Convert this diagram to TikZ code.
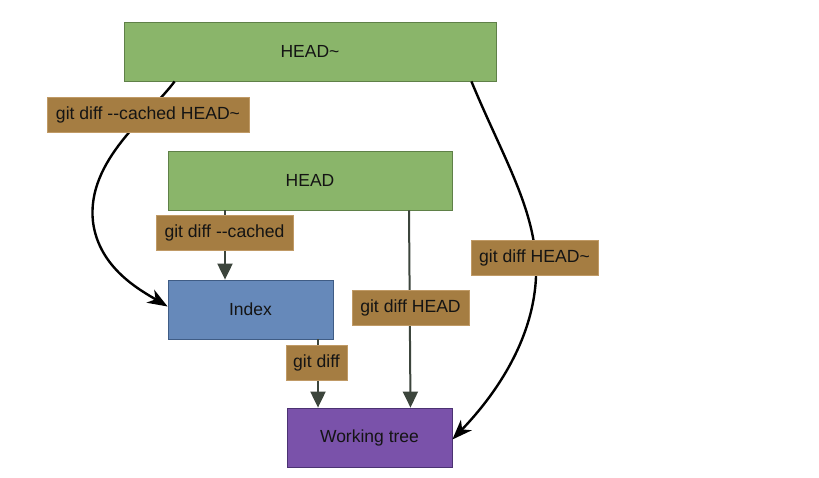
\documentclass[tikz,border=0pt]{standalone}
\usepackage{fontspec}
\setmainfont{Liberation Sans}
\usetikzlibrary{arrows.meta}
\definecolor{commitgreen}{HTML}{8AB56A}
\definecolor{commitedge}{HTML}{5F8048}
\definecolor{indexblue}{HTML}{6689BA}
\definecolor{indexedge}{HTML}{3F5C85}
\definecolor{treepurple}{HTML}{7A52AA}
\definecolor{treeedge}{HTML}{4B3272}
\definecolor{cmdbrown}{HTML}{A57D42}
\definecolor{cmdedge}{HTML}{C09A66}
\definecolor{flowgray}{HTML}{3C453C}
\definecolor{inktext}{HTML}{141414}
\tikzset{
  area/.style={rectangle, draw, line width=0.8pt, inner sep=0pt, text=inktext,
    font=\fontsize{17.5}{20}\selectfont},
  commit/.style={area, fill=commitgreen, draw=commitedge},
  stage/.style={area, fill=indexblue, draw=indexedge},
  worktree/.style={area, fill=treepurple, draw=treeedge},
  cmd/.style={rectangle, fill=cmdbrown, draw=cmdedge, line width=0.6pt,
    inner sep=0pt, text=inktext, font=\fontsize{17.6}{20}\selectfont},
  direct/.style={draw=flowgray, line width=2pt,
    -{Triangle[length=16pt,width=15pt]}},
  across/.style={draw=black, line width=2.4pt,
    -{Stealth[length=20pt,width=15pt,inset=6pt]}},
}
\begin{document}
\begin{tikzpicture}[x=1pt,y=-1pt]
\useasboundingbox[fill=white] (0,0) rectangle (819,477);

% the four states
\node[commit, minimum width=372pt, minimum height=59pt] (headp) at (310,51.5) {HEAD\textasciitilde};
\node[commit, minimum width=284pt, minimum height=59pt] (head) at (310,180.5) {HEAD};
\node[stage, minimum width=165pt, minimum height=59pt] (index) at (250.5,309.5) {Index};
\node[worktree, minimum width=165pt, minimum height=59pt] (wt) at (369.5,437.5) {Working tree};

% straight comparisons
\draw[direct] ([xshift=-85pt]head.south) -- ([xshift=-85pt]head.south |- index.north);
\draw[direct] ([xshift=99pt]head.south) -- ([xshift=41pt]wt.north);
\draw[direct] ([xshift=67.5pt]index.south) -- ([xshift=67.5pt]index.south |- wt.north);

% curved comparisons against HEAD~
\draw[across] ([xshift=51pt]headp.south west)
  .. controls (150,115) and (86,160) .. (93,222)
  .. controls (99,268) and (140,290) .. ([yshift=3pt]index.west);
\draw[across] ([xshift=-25pt]headp.south east)
  .. controls (502,155) and (533,205) .. (536,262)
  .. controls (539,330) and (500,390) .. ([yshift=-2pt]wt.east);

% command labels
\node[cmd, minimum width=202pt, minimum height=35pt] (l1) at (148,114.5) {git diff -{}-cached HEAD\textasciitilde};
\node[cmd, minimum width=137pt, minimum height=35pt] (l2) at (224.5,232.5) {git diff -{}-cached};
\node[cmd, minimum width=127pt, minimum height=35pt] (l3) at (534.5,257.5) {git diff HEAD\textasciitilde};
\node[cmd, minimum width=117pt, minimum height=35pt] (l4) at (410.5,307.5) {git diff HEAD};
\node[cmd, minimum width=61pt, minimum height=35pt] (l5) at (316.5,362.5) {git diff};
\end{tikzpicture}
\end{document}
